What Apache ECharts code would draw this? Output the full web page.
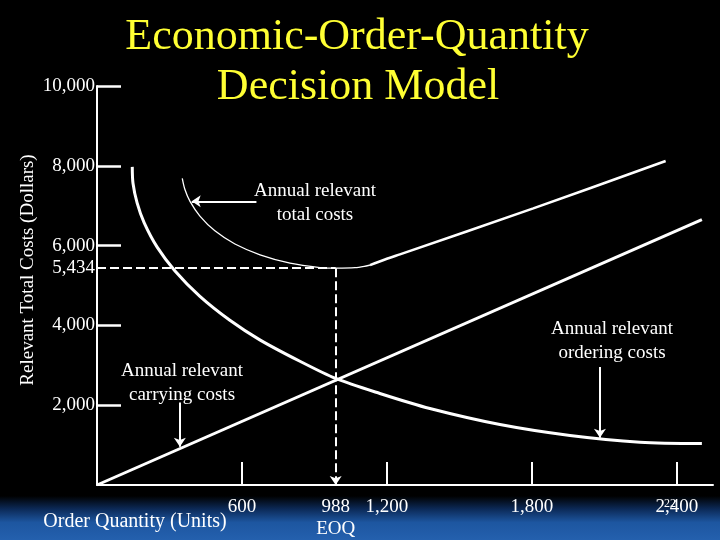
<!DOCTYPE html>
<html>
<head>
<meta charset="utf-8">
<script src="https://cdn.jsdelivr.net/npm/echarts@6/dist/echarts.min.js"></script>
<style>
html,body{margin:0;padding:0;background:#000;}
#c{width:720px;height:540px;}
</style>
</head>
<body>
<div id="c"></div>
<script>
// ---- data ----
const xTickValues = [600, 1200, 1800, 2400];
const xLabelValues = [600, 988, 1200, 1800, 2400];
const yTickValues = [2000, 4000, 6000, 8000, 10000];
const yLabelValues = [2000, 4000, 5434, 6000, 8000, 10000];
const eoq = 988;
const minTotalCost = 5434;

const orderingQ    = [146, 149, 166, 195, 249, 323, 426, 550, 674, 840, 988, 1171, 1378, 1668, 1958, 2248, 2504];
const orderingCost = [7973, 7562, 7069, 6576, 5961, 5365, 4727, 4128, 3638, 3101, 2670, 2293, 1916, 1515, 1241, 1074, 1037];

const carryingQ    = [0, 2504];
const carryingCost = [0, 6650];

const totalQ    = [353, 364, 385, 426, 488, 571, 675, 799, 923, 988, 1068, 1130, 1192, 1254, 1806, 2354];
const totalCost = [7685, 7404, 7108, 6740, 6370, 6040, 5770, 5560, 5450, 5434, 5446, 5510, 5650, 5780, 6933, 8121];

const titleLines = ['Economic-Order-Quantity', 'Decision Model'];
const yAxisTitle = 'Relevant Total Costs (Dollars)';
const xAxisTitle = 'Order Quantity (Units)';
const slideNumber = '22';

// ---- build ----
const zip = (a, b) => a.map((v, i) => [v, b[i]]);
const fmt = v => Number(v).toLocaleString('en-US');
const serif = 'Liberation Serif';
const splitAt = totalQ.indexOf(1130);

const chart = echarts.init(document.getElementById('c'), null, {renderer: 'canvas'});
chart.setOption({
  backgroundColor: '#000',
  animation: false,
  grid: {left: 97, right: 7, top: 86, bottom: 48},
  xAxis: {
    type: 'value', min: 0, max: 2550,
    axisLine: {show: true, onZero: false, lineStyle: {color: '#fff', width: 2}},
    axisTick: {show: true, inside: true, length: 23, customValues: xTickValues, lineStyle: {color: '#fff', width: 2}},
    axisLabel: {
      customValues: xLabelValues, color: '#fff', fontFamily: serif, fontSize: 19, margin: 11, lineHeight: 22,
      formatter: v => (v === eoq ? fmt(v) + '\nEOQ' : fmt(v))
    },
    splitLine: {show: false}
  },
  yAxis: {
    type: 'value', min: 0, max: 10000,
    axisLine: {show: true, onZero: false, lineStyle: {color: '#fff', width: 2}},
    axisTick: {show: true, inside: true, length: 24, customValues: yTickValues, lineStyle: {color: '#fff', width: 2.5}},
    axisLabel: {customValues: yLabelValues, color: '#fff', fontFamily: serif, fontSize: 19, margin: 2, formatter: fmt},
    splitLine: {show: false}
  },
  series: [
    {
      name: 'Annual relevant ordering costs', type: 'line', data: zip(orderingQ, orderingCost),
      smooth: 0.3, showSymbol: false, lineStyle: {color: '#fff', width: 3}, silent: true
    },
    {
      name: 'Annual relevant carrying costs', type: 'line', data: zip(carryingQ, carryingCost),
      showSymbol: false, lineStyle: {color: '#fff', width: 3}, silent: true
    },
    {
      name: 'Annual relevant total costs', type: 'line', data: zip(totalQ, totalCost).slice(0, splitAt + 1),
      smooth: 0.3, showSymbol: false, lineStyle: {color: '#fff', width: 1.3}, silent: true
    },
    {
      name: 'Annual relevant total costs (cont.)', type: 'line', data: zip(totalQ, totalCost).slice(splitAt),
      smooth: 0.3, showSymbol: false, lineStyle: {color: '#fff', width: 2.6}, silent: true
    },
    {
      name: 'annotations', type: 'line', data: [], silent: true,
      markLine: {
        silent: true, animation: false, label: {show: false},
        symbol: ['none', 'arrow'], symbolSize: 9,
        lineStyle: {color: '#fff', width: 2, type: 'solid'},
        emphasis: {disabled: true},
        data: [
          [{coord: [0, minTotalCost], symbol: 'none', lineStyle: {type: [9, 4], width: 2, color: '#fff'}},
           {coord: [eoq, minTotalCost], symbol: 'none'}],
          [{coord: [eoq, minTotalCost], symbol: 'none', lineStyle: {type: [9, 4], width: 2, color: '#fff'}},
           {coord: [eoq, 0], symbol: 'arrow'}],
          [{coord: [660, 7111], symbol: 'none'}, {coord: [392, 7111], symbol: 'arrow'}],
          [{coord: [343, 2069], symbol: 'none'}, {coord: [343, 961], symbol: 'arrow'}],
          [{coord: [2082, 2956], symbol: 'none'}, {coord: [2082, 1182], symbol: 'arrow'}]
        ]
      }
    }
  ],
  graphic: [
    {
      type: 'rect', z: -100, silent: true,
      shape: {x: 0, y: 496, width: 720, height: 44},
      style: {
        fill: new echarts.graphic.LinearGradient(0, 0, 0, 1, [
          {offset: 0, color: 'rgba(0,0,0,1)'},
          {offset: 0.3, color: '#0c2a58'},
          {offset: 0.6, color: '#1d56a0'},
          {offset: 1, color: '#2460ae'}
        ])
      }
    },
    {type: 'text', silent: true, style: {text: titleLines[0], x: 357, y: 37, align: 'center', verticalAlign: 'middle', fill: '#ffff33', font: '44px "Liberation Serif"'}},
    {type: 'text', silent: true, style: {text: titleLines[1], x: 358, y: 87, align: 'center', verticalAlign: 'middle', fill: '#ffff33', font: '44px "Liberation Serif"'}},
    {type: 'text', silent: true, rotation: Math.PI / 2, x: 28, y: 270,
      style: {text: yAxisTitle, x: 0, y: 0, align: 'center', verticalAlign: 'middle', fill: '#fff', font: '19px "Liberation Serif"'}},
    {type: 'text', silent: true, style: {text: xAxisTitle, x: 135, y: 522, align: 'center', verticalAlign: 'middle', fill: '#fff', font: '20px "Liberation Serif"'}},
    {type: 'text', silent: true, style: {text: 'Annual relevant\ntotal costs', x: 315, y: 203, align: 'center', verticalAlign: 'middle', lineHeight: 24, fill: '#fff', font: '19px "Liberation Serif"'}},
    {type: 'text', silent: true, style: {text: 'Annual relevant\ncarrying costs', x: 182, y: 383, align: 'center', verticalAlign: 'middle', lineHeight: 24, fill: '#fff', font: '19px "Liberation Serif"'}},
    {type: 'text', silent: true, style: {text: 'Annual relevant\nordering costs', x: 612, y: 341, align: 'center', verticalAlign: 'middle', lineHeight: 24, fill: '#fff', font: '19px "Liberation Serif"'}},
    {type: 'text', silent: true, style: {text: slideNumber, x: 670, y: 504, align: 'center', verticalAlign: 'middle', fill: '#fff', font: '12px "Liberation Serif"'}}
  ]
});
</script>
</body>
</html>
